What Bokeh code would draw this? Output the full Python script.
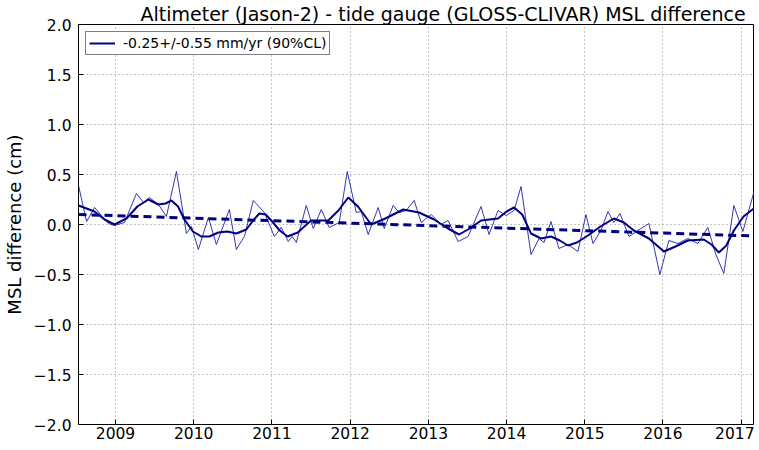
from bokeh.plotting import figure
from bokeh.models import FixedTicker, CustomJSTickFormatter, Range1d, Legend, LegendItem
from bokeh.embed import file_html
from bokeh.resources import INLINE

# --- data ---
raw_t = [2008.527, 2008.630, 2008.732, 2008.911, 2008.987, 2009.115, 2009.268, 2009.358,
         2009.434, 2009.549, 2009.651, 2009.779, 2009.907, 2009.971, 2010.060, 2010.188,
         2010.290, 2010.456, 2010.545, 2010.648, 2010.762, 2010.903, 2011.031, 2011.120,
         2011.209, 2011.260, 2011.312, 2011.439, 2011.529, 2011.631, 2011.733, 2011.861,
         2011.963, 2012.078, 2012.142, 2012.231, 2012.359, 2012.436, 2012.550, 2012.627,
         2012.716, 2012.819, 2012.908, 2013.036, 2013.163, 2013.253, 2013.381, 2013.508,
         2013.674, 2013.776, 2013.891, 2013.994, 2014.096, 2014.185, 2014.313, 2014.415,
         2014.479, 2014.568, 2014.670, 2014.785, 2014.913, 2015.015, 2015.105, 2015.207,
         2015.296, 2015.373, 2015.450, 2015.565, 2015.680, 2015.820, 2015.960, 2016.075,
         2016.190, 2016.318, 2016.446, 2016.573, 2016.676, 2016.778, 2016.906, 2017.021,
         2017.161]
raw_v = [0.39, 0.03, 0.17, 0.01, -0.01, 0.02, 0.31, 0.22,
         0.27, 0.20, 0.08, 0.53, -0.09, -0.02, -0.25, 0.07,
         -0.20, 0.15, -0.25, -0.12, 0.24, 0.12, -0.12, -0.03,
         -0.17, -0.12, -0.18, 0.19, -0.04, 0.15, -0.03, 0.02,
         0.53, 0.12, 0.13, -0.10, 0.17, -0.04, 0.19, 0.12,
         0.14, 0.24, 0.02, 0.10, 0.00, 0.04, -0.17, -0.12,
         0.18, -0.10, 0.14, 0.09, 0.14, 0.38, -0.30, -0.14,
         -0.18, 0.03, -0.24, -0.20, -0.27, 0.10, -0.19, -0.06,
         0.13, 0.02, 0.11, -0.12, -0.06, 0.01, -0.50, -0.16,
         -0.19, -0.14, -0.19, -0.03, -0.30, -0.49, 0.19, -0.07,
         0.32]

smooth_t = [2008.527, 2008.630, 2008.732, 2008.860, 2008.987, 2009.140, 2009.280, 2009.421,
            2009.549, 2009.640, 2009.715, 2009.800, 2009.881, 2009.990, 2010.098, 2010.200,
            2010.315, 2010.430, 2010.545, 2010.673, 2010.760, 2010.839, 2010.920, 2010.992,
            2011.100, 2011.200, 2011.330, 2011.500, 2011.720, 2011.850, 2011.976, 2012.100,
            2012.269, 2012.450, 2012.678, 2012.880, 2013.074, 2013.250, 2013.393, 2013.530,
            2013.674, 2013.891, 2014.000, 2014.096, 2014.200, 2014.313, 2014.441, 2014.568,
            2014.680, 2014.785, 2014.900, 2015.041, 2015.200, 2015.373, 2015.500, 2015.628,
            2015.820, 2016.011, 2016.160, 2016.318, 2016.522, 2016.620, 2016.714, 2016.810,
            2016.906, 2017.030, 2017.161]
smooth_v = [0.19, 0.16, 0.13, 0.05, 0.00, 0.06, 0.18, 0.25,
            0.20, 0.21, 0.24, 0.18, 0.05, -0.07, -0.12, -0.12,
            -0.08, -0.07, -0.09, -0.05, 0.04, 0.11, 0.10, 0.04,
            -0.06, -0.12, -0.08, 0.04, 0.04, 0.14, 0.27, 0.18,
            0.00, 0.06, 0.15, 0.12, 0.05, -0.04, -0.10, -0.04,
            0.04, 0.06, 0.13, 0.17, 0.10, -0.09, -0.14, -0.12,
            -0.16, -0.21, -0.18, -0.11, -0.02, 0.06, 0.02, -0.06,
            -0.14, -0.27, -0.22, -0.16, -0.15, -0.20, -0.28, -0.21,
            -0.06, 0.08, 0.16]

trend_t = [2008.527, 2017.161]
trend_v = [0.10, -0.115]

year_ticks = [2009, 2010, 2011, 2012, 2013, 2014, 2015, 2016, 2017]
y_ticks = [-2.0, -1.5, -1.0, -0.5, 0.0, 0.5, 1.0, 1.5, 2.0]
legend_label = "-0.25+/-0.55 mm/yr (90%CL)"
title_text = "Altimeter (Jason-2) - tide gauge (GLOSS-CLIVAR) MSL difference"

FONT = "DejaVu Sans"

p = figure(frame_width=676, frame_height=400, output_backend="svg", toolbar_location=None,
           x_range=Range1d(2008.527, 2017.17), y_range=Range1d(-2.0, 2.0),
           min_border_left=69, min_border_right=0, min_border_top=17, min_border_bottom=0)

p.title.text = title_text
p.title.text_font = FONT
p.title.text_font_size = "19px"
p.title.text_font_style = "normal"
p.title.text_color = "black"
p.title.align = "left"
p.title.offset = 62
p.title.standoff = 0

p.outline_line_color = "black"
p.outline_line_width = 1
p.background_fill_color = "white"

for ax in (p.xaxis[0], p.yaxis[0]):
    ax.major_label_text_font = FONT
    ax.major_label_text_font_size = "15.5px"
    ax.major_label_text_color = "black"
    ax.axis_line_color = None
    ax.major_tick_in = 5
    ax.major_tick_out = 0
    ax.minor_tick_in = 0
    ax.minor_tick_out = 0
    ax.major_tick_line_color = "black"

p.xaxis.ticker = FixedTicker(ticks=year_ticks)
p.xaxis.major_label_standoff = 2
p.yaxis.ticker = FixedTicker(ticks=y_ticks)
p.yaxis.formatter = CustomJSTickFormatter(code="return tick.toFixed(1).replace('-', '\u2212');")
p.yaxis.major_label_standoff = 7
p.yaxis.axis_label = "MSL difference (cm)"
p.yaxis.axis_label_text_font = FONT
p.yaxis.axis_label_text_font_size = "18px"
p.yaxis.axis_label_text_font_style = "normal"
p.yaxis.axis_label_text_color = "black"
p.yaxis.axis_label_standoff = 6

p.xgrid.ticker = FixedTicker(ticks=year_ticks)
p.ygrid.ticker = FixedTicker(ticks=y_ticks)
for g in (p.xgrid[0], p.ygrid[0]):
    g.grid_line_color = "#888888"
    g.grid_line_dash = "1 3"
    g.grid_line_width = 1

p.line(raw_t, raw_v, line_color="#2020a8", line_width=1, line_alpha=0.9)
r_smooth = p.line(smooth_t, smooth_v, line_color="#000080", line_width=2)
p.line(trend_t, trend_v, line_color="#000080", line_width=3, line_dash="8 5")

legend = Legend(items=[LegendItem(label=legend_label, renderers=[r_smooth])],
                location="top_left", margin=7, padding=3, spacing=0,
                label_text_font=FONT, label_text_font_size="14px", label_text_color="black",
                label_height=16, glyph_width=26, glyph_height=16, label_standoff=8,
                border_line_color="black", border_line_width=1,
                background_fill_alpha=1.0)
p.add_layout(legend)

open("out.html", "w").write(file_html(p, INLINE))
